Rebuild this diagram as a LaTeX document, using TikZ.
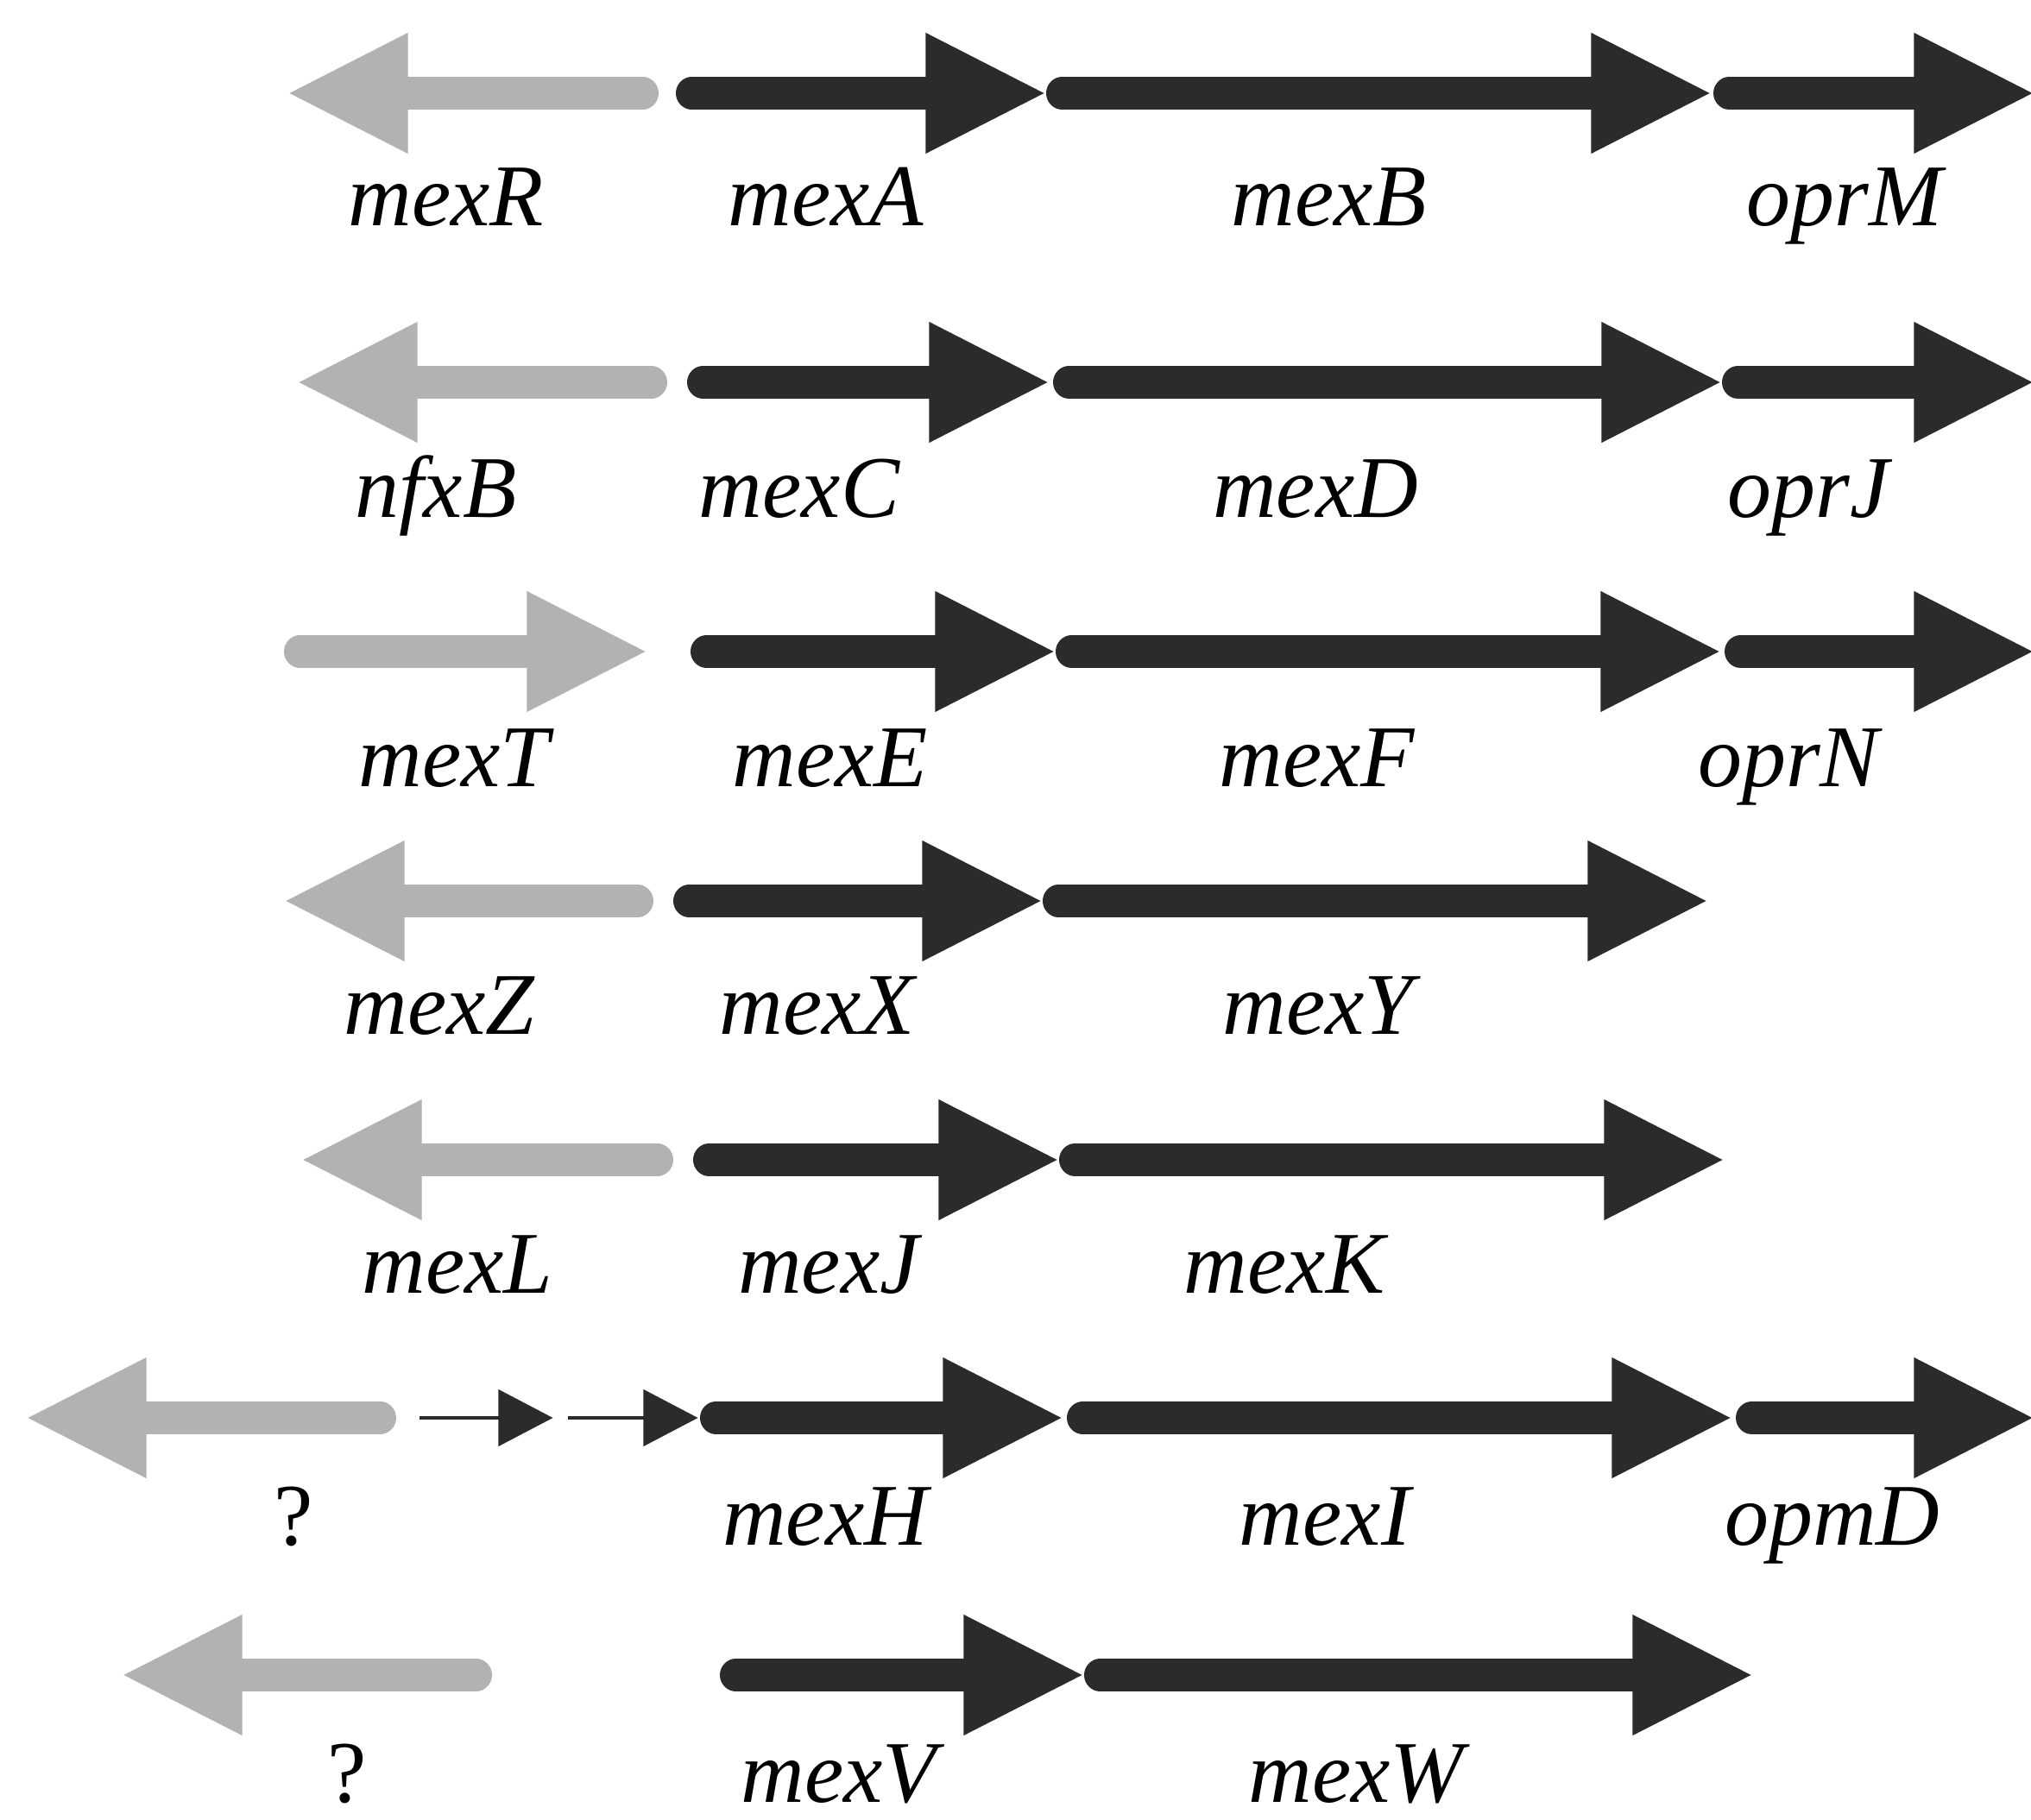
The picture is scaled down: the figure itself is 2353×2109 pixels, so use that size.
\documentclass[tikz,border=0pt]{standalone}
\usepackage{fontspec}
\setmainfont{Liberation Serif}
\usepackage{tikz}
\usetikzlibrary{arrows.meta}
\usepackage[dvipsnames]{xcolor}

\definecolor{gennegro}{gray}{0.17}
\definecolor{gengris}{gray}{0.70}

% gen: [estilo]{cola}{punta}{fila}
\newcommand{\gen}[4][negro]{%
    \pgfmathsetmacro{\gdir}{#3>#2 ? 1 : -1}%
    \pgfmathsetmacro{\gbase}{#3-\gdir*135}%
    \draw[#1, line width=3.7mm, line cap=round] ({#2+\gdir*18.5},#4) -- (\gbase,#4);
    \fill[#1] (\gbase,#4-69) -- (#3,#4) -- (\gbase,#4+69) -- cycle;
}
% flecha fina: {inicio}{punta}{fila}
\newcommand{\flechita}[3]{%
    \draw[negro, line width=0.4mm] (#1,#3) -- (#2-61,#3);
    \fill[negro] (#2-61,#3-32) -- (#2,#3) -- (#2-61,#3+32) -- cycle;
}

\begin{document}
\begin{tikzpicture}[
    x=0.01cm, y=-0.01cm,
    negro/.style={draw=gennegro, fill=gennegro},
    gris/.style={draw=gengris, fill=gengris},
    etiq/.style={
        font=\fontsize{29}{34}\selectfont\itshape,
        anchor=base, inner sep=0pt
    },
    preg/.style={font=\fontsize{29}{34}\selectfont, anchor=base, inner sep=0pt}
]
\useasboundingbox (0,0) rectangle (2353,2109);

% Fila 1
\gen[gris]{763}{337}{108}
\gen{783}{1208}{108}
\gen{1212}{1979}{108}
\gen{1985}{2353}{108}
\node[etiq] (mexR) at (517,262) {mexR};
\node[etiq] (mexA) at (957,262) {mexA};
\node[etiq] (mexB) at (1540,262) {mexB};
\node[etiq] (oprM) at (2137,262) {oprM};

% Fila 2
\gen[gris]{773}{348}{443}
\gen{796}{1212}{443}
\gen{1220}{1991}{443}
\gen{1995}{2353}{443}
\node[etiq] (nfxB) at (505,600) {nfxB};
\node[etiq] (mexC) at (926,600) {mexC};
\node[etiq] (mexD) at (1524,600) {mexD};
\node[etiq] (oprJ) at (2095,600) {oprJ};

% Fila 3 (regulador hacia la derecha)
\gen[gris]{329}{746}{755}
\gen{800}{1219}{755}
\gen{1223}{1990}{755}
\gen{1998}{2353}{755}
\node[etiq] (mexT) at (526,911) {mexT};
\node[etiq] (mexE) at (962,911) {mexE};
\node[etiq] (mexF) at (1526,911) {mexF};
\node[etiq] (oprN) at (2072,911) {oprN};

% Fila 4
\gen[gris]{757}{333}{1044}
\gen{780}{1204}{1044}
\gen{1208}{1975}{1044}
\node[etiq] (mexZ) at (509,1198) {mexZ};
\node[etiq] (mexX) at (947,1198) {mexX};
\node[etiq] (mexY) at (1527,1198) {mexY};

% Fila 5
\gen[gris]{780}{353}{1344}
\gen{803}{1223}{1344}
\gen{1227}{1994}{1344}
\node[etiq] (mexL) at (530,1498) {mexL};
\node[etiq] (mexJ) at (960,1498) {mexJ};
\node[etiq] (mexK) at (1488,1498) {mexK};

% Fila 6 (con dos flechas finas)
\gen[gris]{459}{34}{1643}
\flechita{486}{639}{1643}
\flechita{658}{807}{1643}
\gen{811}{1228}{1643}
\gen{1236}{2003}{1643}
\gen{2011}{2353}{1643}
\node[preg] (q1) at (340,1790) {?};
\node[etiq] (mexH) at (956,1790) {mexH};
\node[etiq] (mexI) at (1535,1790) {mexI};
\node[etiq] (opmD) at (2123,1790) {opmD};

% Fila 7
\gen[gris]{570}{145}{1941}
\gen{834}{1252}{1941}
\gen{1256}{2027}{1941}
\node[preg] (q2) at (402,2088) {?};
\node[etiq] (mexV) at (972,2088) {mexV};
\node[etiq] (mexW) at (1571,2088) {mexW};

\end{tikzpicture}
\end{document}
